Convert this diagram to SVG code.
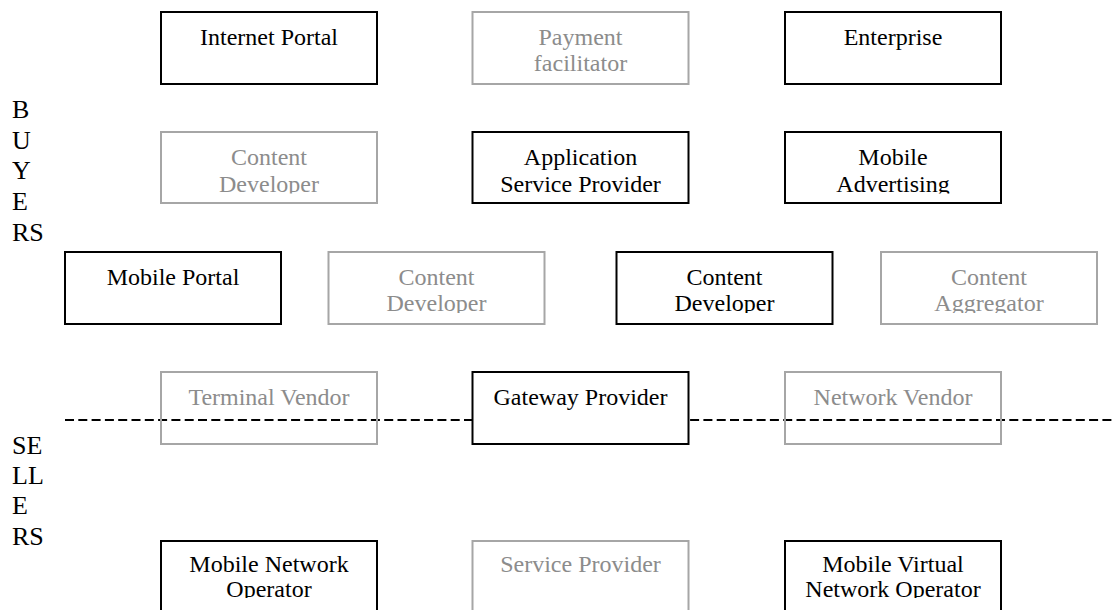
<svg xmlns="http://www.w3.org/2000/svg" width="1115" height="610" viewBox="0 0 1115 610" font-family="Liberation Serif, DejaVu Serif, serif">
<style>
  text { font-family: 'Liberation Serif', 'Times New Roman', 'DejaVu Serif', serif; font-size: 24px; }
  .blk rect { fill: #ffffff; stroke: #000000; stroke-width: 2; }
  .gry rect { fill: none; stroke: #a6a6a6; stroke-width: 2; }
  .blk text { fill: #000000; text-anchor: middle; }
  .gry text { fill: #8c8c8c; text-anchor: middle; }
  .side { font-size: 26px; fill: #000000; }
  .sep { stroke: #000000; stroke-width: 2; stroke-dasharray: 9 4.3; fill: none; }
</style>
<defs>
  <clipPath id="c1"><rect x="0" y="0" width="1115" height="80"/></clipPath>
  <clipPath id="c2"><rect x="0" y="120" width="1115" height="73.5"/></clipPath>
  <clipPath id="c3"><rect x="0" y="240" width="1115" height="73"/></clipPath>
  <clipPath id="c4"><rect x="0" y="360" width="1115" height="80"/></clipPath>
  <clipPath id="c5"><rect x="0" y="530" width="1115" height="68"/></clipPath>
</defs>
<rect width="1115" height="610" fill="#ffffff"/>

<g id="labels">
  <text class="side" x="12" y="118">B</text>
  <text class="side" x="12" y="149">U</text>
  <text class="side" x="12" y="179">Y</text>
  <text class="side" x="12" y="210">E</text>
  <text class="side" x="12" y="241">RS</text>
  <text class="side" x="12" y="454">SE</text>
  <text class="side" x="12" y="484">LL</text>
  <text class="side" x="12" y="514">E</text>
  <text class="side" x="12" y="545">RS</text>
</g>

<g id="connectors">
  <line class="sep" x1="65" y1="420" x2="1115" y2="420"/>
</g>

<g id="internet-portal" class="blk">
  <rect x="161" y="12" width="216" height="72"/>
  <text x="269" y="45" clip-path="url(#c1)">Internet Portal</text>
</g>
<g id="payment-facilitator" class="gry">
  <rect x="472.5" y="12" width="216" height="72"/>
  <text x="580.5" y="45" clip-path="url(#c1)">Payment</text>
  <text x="580.5" y="71" clip-path="url(#c1)">facilitator</text>
</g>
<g id="enterprise" class="blk">
  <rect x="785" y="12" width="216" height="72"/>
  <text x="893" y="45" clip-path="url(#c1)">Enterprise</text>
</g>

<g id="content-developer-1" class="gry">
  <rect x="161" y="132" width="216" height="71"/>
  <text x="269" y="165" clip-path="url(#c2)">Content</text>
  <text x="269" y="191.5" clip-path="url(#c2)">Developer</text>
</g>
<g id="application-service-provider" class="blk">
  <rect x="472.5" y="132" width="216" height="71"/>
  <text x="580.5" y="165" clip-path="url(#c2)">Application</text>
  <text x="580.5" y="191.5" clip-path="url(#c2)">Service Provider</text>
</g>
<g id="mobile-advertising" class="blk">
  <rect x="785" y="132" width="216" height="71"/>
  <text x="893" y="165" clip-path="url(#c2)">Mobile</text>
  <text x="893" y="191.5" clip-path="url(#c2)">Advertising</text>
</g>

<g id="mobile-portal" class="blk">
  <rect x="65" y="252" width="216" height="72"/>
  <text x="173" y="285" clip-path="url(#c3)">Mobile Portal</text>
</g>
<g id="content-developer-2" class="gry">
  <rect x="328.5" y="252" width="216" height="72"/>
  <text x="436.5" y="285" clip-path="url(#c3)">Content</text>
  <text x="436.5" y="311" clip-path="url(#c3)">Developer</text>
</g>
<g id="content-developer-3" class="blk">
  <rect x="616.5" y="252" width="216" height="72"/>
  <text x="724.5" y="285" clip-path="url(#c3)">Content</text>
  <text x="724.5" y="311" clip-path="url(#c3)">Developer</text>
</g>
<g id="content-aggregator" class="gry">
  <rect x="881" y="252" width="216" height="72"/>
  <text x="989" y="285" clip-path="url(#c3)">Content</text>
  <text x="989" y="311" clip-path="url(#c3)">Aggregator</text>
</g>

<g id="terminal-vendor" class="gry">
  <rect x="161" y="372" width="216" height="72"/>
  <text x="269" y="405" clip-path="url(#c4)">Terminal Vendor</text>
</g>
<g id="gateway-provider" class="blk">
  <rect x="472.5" y="372" width="216" height="72"/>
  <text x="580.5" y="405" clip-path="url(#c4)">Gateway Provider</text>
</g>
<g id="network-vendor" class="gry">
  <rect x="785" y="372" width="216" height="72"/>
  <text x="893" y="405" clip-path="url(#c4)">Network Vendor</text>
</g>

<g id="mobile-network-operator" class="blk">
  <rect x="161" y="541" width="216" height="80"/>
  <text x="269" y="572" clip-path="url(#c5)">Mobile Network</text>
  <text x="269" y="597" clip-path="url(#c5)">Operator</text>
</g>
<g id="service-provider" class="gry">
  <rect x="472.5" y="541" width="216" height="80"/>
  <text x="580.5" y="572" clip-path="url(#c5)">Service Provider</text>
</g>
<g id="mobile-virtual-network-operator" class="blk">
  <rect x="785" y="541" width="216" height="80"/>
  <text x="893" y="572" clip-path="url(#c5)">Mobile Virtual</text>
  <text x="893" y="597" clip-path="url(#c5)">Network Operator</text>
</g>
</svg>
